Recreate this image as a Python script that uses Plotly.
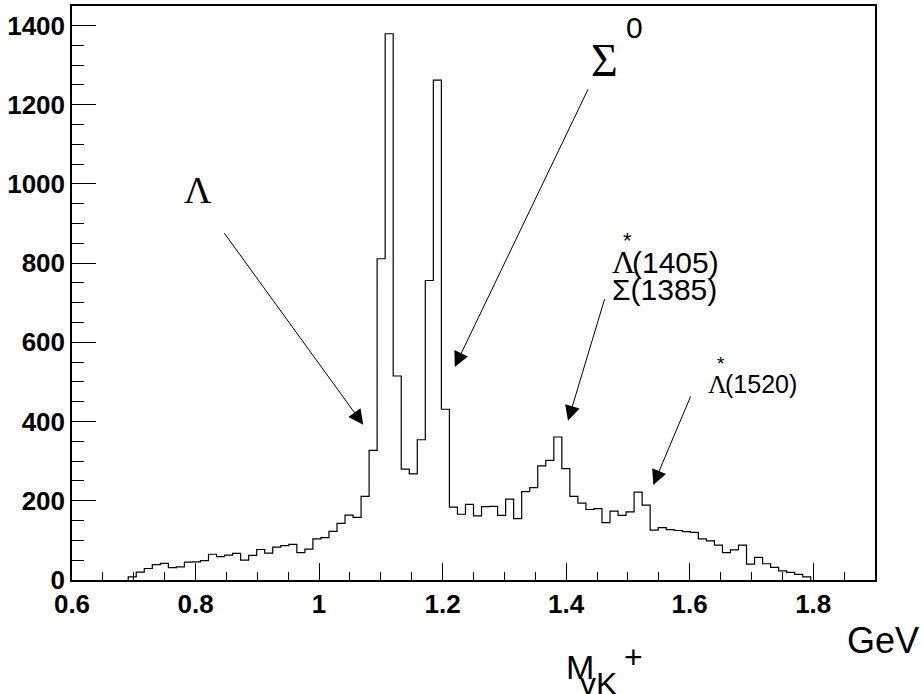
import plotly.graph_objects as go

# ---- data ----
bin_width = 0.013          # GeV
first_bin_low = 0.691      # low edge of first non-empty bin
counts = [8, 20, 29, 39, 42, 31, 33, 45, 46, 49,
          65, 59, 63, 67, 50, 62, 77, 68, 83, 87,
          90, 69, 78, 104, 107, 123, 143, 164, 158, 211,
          327, 811, 1379, 515, 280, 268, 354, 756, 1262, 431,
          184, 166, 191, 162, 185, 186, 163, 204, 155, 223,
          233, 288, 302, 361, 281, 211, 194, 178, 180, 145,
          174, 163, 172, 222, 189, 126, 132, 127, 125, 122,
          120, 104, 99, 88, 69, 76, 88, 40, 57, 41,
          32, 23, 19, 14, 8]
x_ticks = [0.6, 0.8, 1.0, 1.2, 1.4, 1.6, 1.8]
x_tick_labels = ["0.6", "0.8", "1", "1.2", "1.4", "1.6", "1.8"]
y_ticks = [0, 200, 400, 600, 800, 1000, 1200, 1400]
y_tick_labels = ["0", "200", "400", "600", "800", "1000", "1200", "1400"]

# step outline of the histogram
edges = [first_bin_low + i * bin_width for i in range(len(counts) + 1)]
xs = [edges[0]] + edges
ys = [0] + counts + [0]

fig = go.Figure()
fig.add_trace(go.Scatter(x=xs, y=ys, mode="lines", line=dict(color="black", width=1.2, shape="hv"),
                         hoverinfo="skip", showlegend=False))

W, H = 923, 694
L, R, T, B = 72, 48, 6, 114
PW, PH = W - L - R, H - T - B
fig.update_layout(
    width=W, height=H,
    margin=dict(l=L, r=R, t=T, b=B, autoexpand=False),
    paper_bgcolor="white", plot_bgcolor="white",
    showlegend=False,
    font=dict(family="Liberation Sans, Arial, sans-serif", color="black"),
)
tickfont = dict(family="Liberation Sans, Arial, sans-serif", size=26, color="black", weight="bold")
fig.update_xaxes(range=[0.6, 1.9], showgrid=False, zeroline=False, automargin=False,
                 showline=True, linecolor="black", linewidth=1.5, mirror=True,
                 ticks="inside", ticklen=17, tickwidth=1, tickcolor="black",
                 tickvals=x_ticks, ticktext=x_tick_labels, tickfont=tickfont,
                 minor=dict(ticks="inside", ticklen=8, tickwidth=1, tickcolor="black", dtick=0.05, tick0=0.6))
fig.update_yaxes(range=[0, 1449], showgrid=False, zeroline=False, automargin=False,
                 showline=True, linecolor="black", linewidth=1.5, mirror=True,
                 ticks="inside", ticklen=24, tickwidth=1, tickcolor="black",
                 tickvals=y_ticks, ticktext=y_tick_labels, tickfont=tickfont,
                 minor=dict(ticks="inside", ticklen=12, tickwidth=1, tickcolor="black", dtick=50, tick0=0))

serif = "Liberation Serif, Times New Roman, serif"
sans = "Liberation Sans, Arial, sans-serif"

def px_ann(text, x, y, size, family=sans, xanchor="left", yanchor="middle"):
    fig.add_annotation(text=text, x=(x - L) / PW, y=1 - (y - T) / PH, xref="paper", yref="paper",
                       showarrow=False, xanchor=xanchor, yanchor=yanchor,
                       font=dict(family=family, size=size, color="black"))

def arrow(tx, ty, ax, ay):
    fig.add_annotation(text="", x=tx, y=ty, xref="x", yref="y", ax=ax, ay=ay,
                       axref="pixel", ayref="pixel", showarrow=True,
                       arrowhead=2, arrowsize=3, arrowwidth=1, arrowcolor="black",
                       standoff=0, startstandoff=0)

# labels
px_ann("Λ", 182, 190, 38, serif)
px_ann("Σ", 589, 60, 46, serif)
px_ann("0", 624, 27, 30, sans)
px_ann("Λ", 610, 262, 32, serif)
px_ann("*", 621, 240, 22, sans)
px_ann("(1405)", 630, 262, 30, sans)
px_ann("Σ(1385)", 610, 290, 30, sans)
px_ann("Λ", 706, 384, 26, serif)
px_ann("*", 715, 363, 19, sans)
px_ann("(1520)", 723, 384, 25, sans)

# arrows (tips in data coordinates)
arrow(1.0715, 392, -140, -193)
arrow(1.2196, 538, 134, -279)
arrow(1.403, 402, 37, -123)
arrow(1.541, 240, 38, -90)

# axis title
px_ann("GeV", 845, 640, 36, sans)
px_ann("M", 564, 667, 34, sans)
px_ann("γK", 578, 684, 32, sans)
px_ann("+", 622, 657, 32, sans)

fig.write_html("out.html", config={"displayModeBar": False},
               post_script="document.body.style.margin='0';document.body.style.padding='0';")
